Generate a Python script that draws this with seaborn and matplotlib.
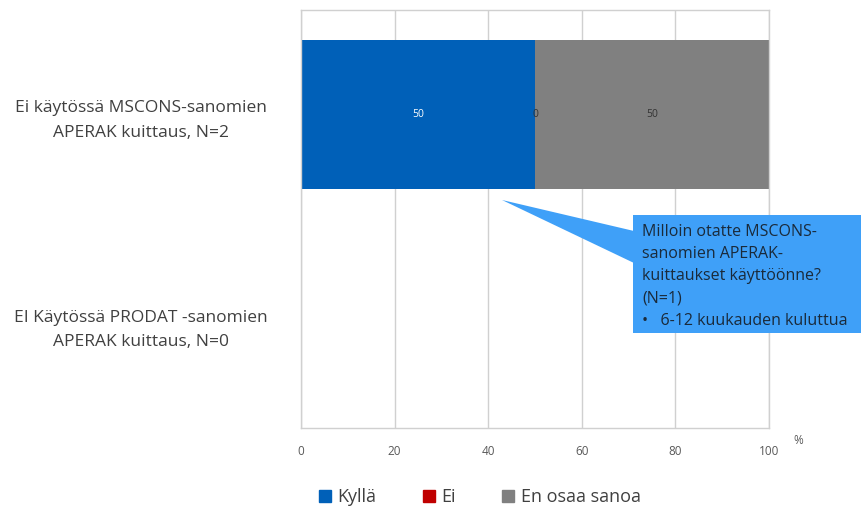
import pandas as pd
import numpy as np
import matplotlib
matplotlib.use('Agg')
import matplotlib.pyplot as plt
from matplotlib.lines import Line2D
from matplotlib.patches import Rectangle, Polygon
import seaborn as sns

KATEGORIAT = ["Ei käytössä MSCONS-sanomien\nAPERAK kuittaus, N=2",
              "EI Käytössä PRODAT -sanomien\nAPERAK kuittaus, N=0"]
KYLLA = [50, np.nan]
EI = [0, np.nan]
EN_OSAA = [50, np.nan]
SARJAT = ["Kyllä", "Ei", "En osaa sanoa"]
VARIT = ["#0060B8", "#C00000", "#808080"]
XTICKS = [0, 20, 40, 60, 80, 100]
HUOMIO = ["Milloin otatte MSCONS-", "sanomien APERAK-", "kuittaukset käyttöönne?",
          "(N=1)", "•   6-12 kuukauden kuluttua"]

W, H = 862, 509


def px(x, y):
    # pikselit -> figure fraction
    return x / W, 1 - y / H


def piirra():
    sns.set_style("white")
    plt.rcParams['font.family'] = ['Open Sans', 'DejaVu Sans']

    df = pd.DataFrame({'kategoria': KATEGORIAT, 'Kyllä': KYLLA, 'Ei': EI, 'En osaa sanoa': EN_OSAA})
    df['c1'] = df['Kyllä']
    df['c2'] = df['c1'] + df['Ei']
    df['c3'] = df['c2'] + df['En osaa sanoa']

    fig = plt.figure(figsize=(W / 100, H / 100), dpi=100)
    x0, y1 = px(301, 428)
    x1, y0 = px(769, 10)
    ax = fig.add_axes([x0, y1, x1 - x0, y0 - y1])

    for col, vari in zip(['c3', 'c2', 'c1'], VARIT[::-1]):
        sns.barplot(data=df, x=col, y='kategoria', color=vari, width=0.71,
                    orient='h', ax=ax, saturation=1, errorbar=None, linewidth=0)

    # arvolaput
    for i, rivi in df.iterrows():
        alku = 0
        for s, tcol in zip(SARJAT, ['white', '#333333', '#333333']):
            v = rivi[s]
            if pd.isna(v):
                continue
            ax.text(alku + v / 2, i, f"{int(v)}", ha='center', va='center',
                    fontsize=7.5, color=tcol)
            alku += v

    ax.set_xlim(0, 100)
    ax.set_xticks(XTICKS)
    ax.set_xticklabels([str(t) for t in XTICKS], fontsize=8.5, color='#595959')
    ax.tick_params(axis='x', length=0, pad=12)
    ax.tick_params(axis='y', length=0)
    ax.set_yticklabels(KATEGORIAT, fontsize=12.5, color='#404040', ha='center',
                       linespacing=1.72)
    for lab in ax.get_yticklabels():
        lab.set_x(-0.331)
    ax.set_xlabel('')
    ax.set_ylabel('')
    ax.grid(axis='x', color='#d0d0d0', linewidth=1)
    ax.set_axisbelow(True)
    for sp in ax.spines.values():
        sp.set_color('#d0d0d0')
        sp.set_linewidth(1)

    fig.text(*px(798, 440), '%', fontsize=8.5, color='#595959', ha='center', va='center')

    # huomiolaatikko
    sininen = '#3FA0F8'
    bx, by = px(633, 333)
    bx2, by2 = px(862, 215)
    fig.add_artist(Rectangle((bx, by), bx2 - bx, by2 - by, transform=fig.transFigure,
                             facecolor=sininen, edgecolor='none'))
    fig.add_artist(Polygon([px(502, 200), px(634, 231), px(634, 263)], closed=True,
                           transform=fig.transFigure, facecolor=sininen, edgecolor='none'))
    for j, rivi in enumerate(HUOMIO):
        fig.text(*px(642, 232 + 22.2 * j), rivi, fontsize=11.5, color='#1a2a3a',
                 ha='left', va='center')

    kahvat = [Line2D([0], [0], marker='s', linestyle='', markersize=8.5,
                     markerfacecolor=c, markeredgecolor=c) for c in VARIT]
    fig.legend(kahvat, SARJAT, loc='center', bbox_to_anchor=(*px(479, 497),),
               ncol=3, frameon=False, fontsize=13, handlelength=0.8,
               handletextpad=0.3, columnspacing=2.5, labelcolor='#404040')

    fig.savefig('out.png', dpi=100)


if __name__ == "__main__":
    piirra()
